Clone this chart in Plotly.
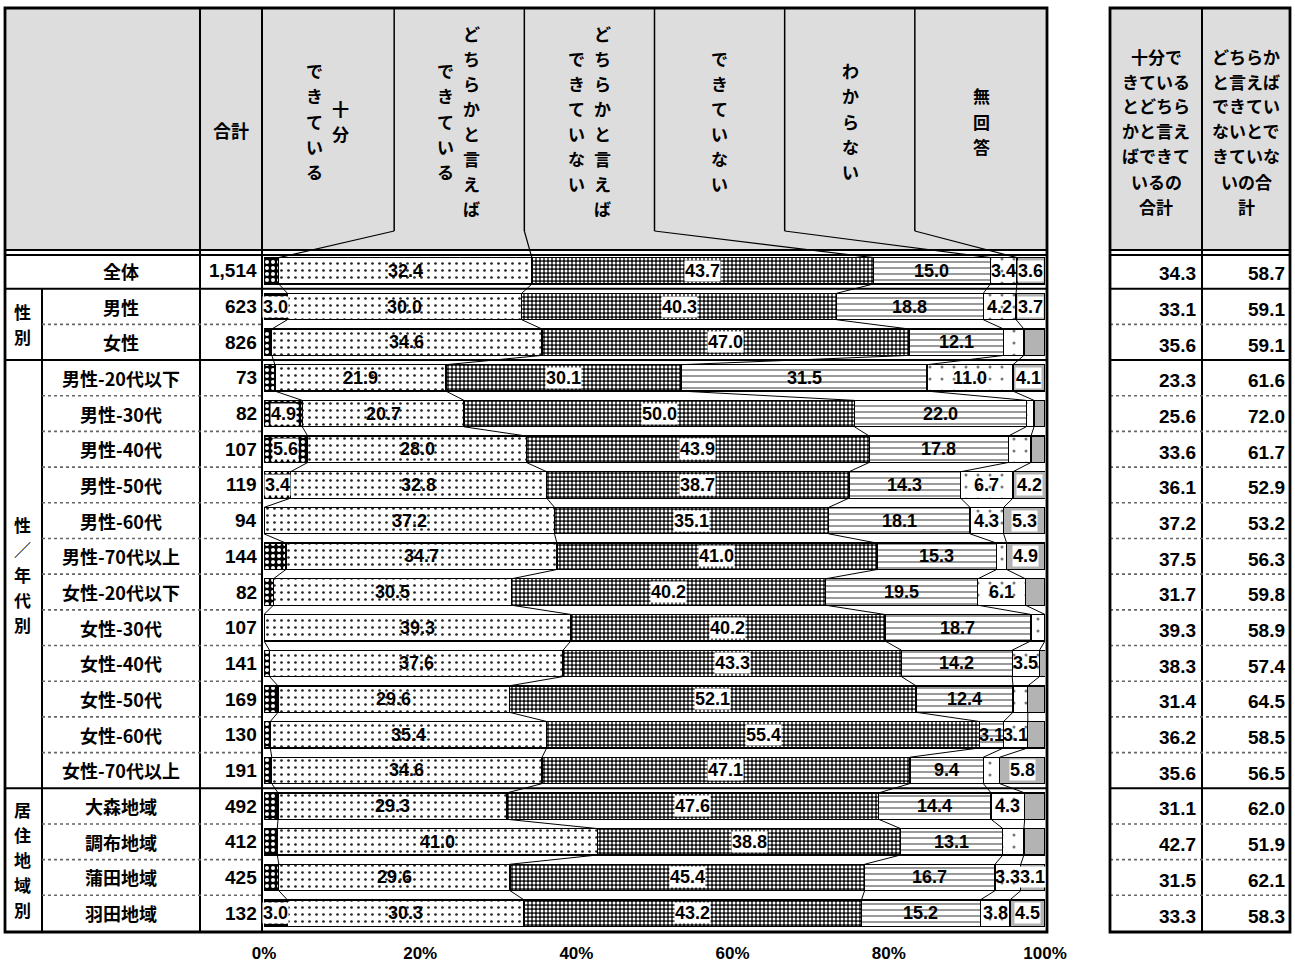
import plotly.graph_objects as go

# ---------------- data ----------------
categories = ["全体", "男性", "女性", "男性-20代以下", "男性-30代", "男性-40代", "男性-50代",
              "男性-60代", "男性-70代以上", "女性-20代以下", "女性-30代", "女性-40代", "女性-50代",
              "女性-60代", "女性-70代以上", "大森地域", "調布地域", "蒲田地域", "羽田地域"]
n_values = ["1,514", "623", "826", "73", "82", "107", "119", "94", "144", "82", "107", "141",
            "169", "130", "191", "492", "412", "425", "132"]
series_names = ["十分できている", "どちらかと言えばできている", "どちらかと言えばできていない",
                "できていない", "わからない", "無回答"]
v_jubun = [1.9, 3.0, 1.0, 1.4, 4.9, 5.6, 3.4, 0.0, 2.8, 1.2, 0.0, 0.7, 1.8, 0.8, 1.0, 1.8, 1.7, 1.9, 3.0]
v_dochira_dekiteiru = [32.4, 30.0, 34.6, 21.9, 20.7, 28.0, 32.8, 37.2, 34.7, 30.5, 39.3, 37.6, 29.6, 35.4, 34.6, 29.3, 41.0, 29.6, 30.3]
v_dochira_dekiteinai = [43.7, 40.3, 47.0, 30.1, 50.0, 43.9, 38.7, 35.1, 41.0, 40.2, 40.2, 43.3, 52.1, 55.4, 47.1, 47.6, 38.8, 45.4, 43.2]
v_dekiteinai = [15.0, 18.8, 12.1, 31.5, 22.0, 17.8, 14.3, 18.1, 15.3, 19.5, 18.7, 14.2, 12.4, 3.1, 9.4, 14.4, 13.1, 16.7, 15.2]
v_wakaranai = [3.4, 4.2, 2.6, 11.0, 1.0, 2.9, 6.7, 4.3, 1.3, 6.1, 1.8, 3.5, 1.9, 3.1, 2.1, 4.3, 2.7, 3.3, 3.8]
v_mukaitou = [3.6, 3.7, 2.7, 4.1, 1.4, 1.8, 4.2, 5.3, 4.9, 2.4, 0.0, 0.8, 2.2, 2.2, 5.8, 2.6, 2.7, 3.1, 4.5]
sum_dekiteiru = [34.3, 33.1, 35.6, 23.3, 25.6, 33.6, 36.1, 37.2, 37.5, 31.7, 39.3, 38.3, 31.4, 36.2, 35.6, 31.1, 42.7, 31.5, 33.3]
sum_dekiteinai = [58.7, 59.1, 59.1, 61.6, 72.0, 61.7, 52.9, 53.2, 56.3, 59.8, 58.9, 57.4, 64.5, 58.5, 56.5, 62.0, 51.9, 62.1, 58.3]
# vertical (tategaki) header: per column, right line first then left line
header_cols = [["十分", "できている"],
               ["どちらかと言えば", "できている"],
               ["どちらかと言えば", "できていない"],
               ["できていない"],
               ["わからない"],
               ["無回答"]]
sum_headers = [["十分で", "きている", "とどちら", "かと言え", "ばできて", "いるの", "合計"],
               ["どちらか", "と言えば", "できてい", "ないとで", "きていな", "いの合", "計"]]
groups = [("", 0, 0), ("性別", 1, 2), ("性／年代別", 3, 14), ("居住地域別", 15, 18)]
tick_vals = [0, 20, 40, 60, 80, 100]
tick_labels = ["0%", "20%", "40%", "60%", "80%", "100%"]

# ---------------- geometry (pixels) ----------------
W, H = 1295, 965
def px(x): return x / W
def py(y): return 1 - y / H

TL, TR, TT, TB = 5, 1047, 8, 932
HB1, HB2 = 250, 255
C1, C2, C3 = 42, 200, 262
BX0, BX1 = 264, 1045
BY0, BY1 = 253, 931
RL, RM, RR = 1110, 1202, 1290
BW = 0.74
PITCH = 25  # vertical text character pitch (px)

JP = "Noto Sans CJK JP"
NUM = "Liberation Sans Narrow, Arial Narrow, Liberation Sans"

nrows = len(categories)
rows = list(range(nrows))
ROWPX = (BY1 - BY0) / nrows
series_vals = [v_jubun, v_dochira_dekiteiru, v_dochira_dekiteinai, v_dekiteinai, v_wakaranai, v_mukaitou]
styles = [
    dict(shape=".", fg="#ffffff", bg="#000000", size=6, sol=0.35, box=True),
    dict(shape=".", fg="#222222", bg="#ffffff", size=7, sol=0.12, box=False),
    dict(shape=".", fg="#ffffff", bg="#111111", size=4, sol=0.45, box=True),
    dict(shape="-", fg="#444444", bg="#ffffff", size=6, sol=0.18, box=False),
    dict(shape=".", fg="#777777", bg="#ffffff", size=12, sol=0.05, box=False),
    dict(shape="", fg="#b3b3b3", bg="#b3b3b3", size=8, sol=0.3, box=True),
]

fig = go.Figure()
for name, vals, st in zip(series_names, series_vals, styles):
    pat = dict(shape=st["shape"], fgcolor=st["fg"], bgcolor=st["bg"], size=st["size"], solidity=st["sol"])
    fig.add_trace(go.Bar(
        y=rows, x=vals, orientation="h", name=name, width=BW,
        marker=dict(color=st["bg"], line=dict(color="black", width=1.3), pattern=pat),
        hoverinfo="skip"))

# cumulative boundaries
cum = []
for i in rows:
    c = [0.0]
    for vals in series_vals:
        c.append(c[-1] + vals[i])
    cum.append(c)

# series lines between bars
lx, ly = [], []
for k in range(1, 6):
    for i in range(nrows - 1):
        lx += [cum[i][k], cum[i + 1][k], None]
        ly += [i + BW / 2, i + 1 - BW / 2, None]
fig.add_trace(go.Scatter(x=lx, y=ly, mode="lines", line=dict(color="black", width=1),
                         hoverinfo="skip", showlegend=False))

ann = []
def A(**kw):
    kw.setdefault("showarrow", False)
    kw.setdefault("xanchor", "center")
    kw.setdefault("yanchor", "middle")
    ann.append(kw)

def stack_paper(items, x, yc, size, pitch=PITCH):
    n = len(items)
    for j, t in enumerate(items):
        yy = yc + (j - (n - 1) / 2) * pitch
        A(x=px(x), y=py(yy), xref="paper", yref="paper", text=t,
          font=dict(family=JP, size=size, color="black", weight="bold"))

def vtext_rows(text, x, rc, size):
    n = len(text)
    for j, ch in enumerate(text):
        yy = rc + (j - (n - 1) / 2) * PITCH / ROWPX
        A(x=px(x), y=yy, xref="paper", yref="y", text=ch,
          font=dict(family=JP, size=size, color="black", weight="bold"))

# bar value labels
for s, (vals, st) in enumerate(zip(series_vals, styles)):
    for i in rows:
        v = vals[i]
        if v >= 3.0:
            A(x=cum[i][s] + v / 2, y=i, xref="x", yref="y", text=f"{v:.1f}",
              font=dict(family=NUM, size=18, color="black", weight="bold"),
              bgcolor="white" if st["box"] else "rgba(0,0,0,0)", borderpad=0)

# row labels, n, sums
for i in rows:
    A(x=px(121), y=i, xref="paper", yref="y", text=categories[i],
      font=dict(family=JP, size=18, color="black", weight="bold"))
    A(x=px(259), y=i, xref="paper", yref="y", text=n_values[i], xanchor="right",
      font=dict(family=NUM, size=19, color="black", weight="bold"))
    A(x=px(RM - 4), y=i + 0.08, xref="paper", yref="y", text=f"{sum_dekiteiru[i]:.1f}", xanchor="right",
      font=dict(family=NUM, size=19, color="black", weight="bold"))
    A(x=px(RR - 3), y=i + 0.08, xref="paper", yref="y", text=f"{sum_dekiteinai[i]:.1f}", xanchor="right",
      font=dict(family=NUM, size=19, color="black", weight="bold"))

for text, a, b in groups:
    if text:
        vtext_rows(text, 23, (a + b) / 2, 17)

# header texts
A(x=px(231), y=py(130), xref="paper", yref="paper", text="合計",
  font=dict(family=JP, size=18, color="black", weight="bold"))
colw = (TR - C3) / 6
for k, cols in enumerate(header_cols):
    cx = C3 + colw * (k + 0.5)
    xs = [cx + 13, cx - 13] if len(cols) == 2 else [cx]
    for t, xx in zip(cols, xs):
        stack_paper(list(t), xx, 121, 17)
for lines, xx in zip(sum_headers, [(RL + RM) / 2, (RM + RR) / 2]):
    stack_paper(lines, xx, 131, 17)

# ---------------- table shapes ----------------
shapes = []
def rect(x0, y0, x1, y1, fill=None, lw=0, layer="below"):
    shapes.append(dict(type="rect", xref="paper", yref="paper", x0=px(x0), x1=px(x1), y0=py(y0), y1=py(y1),
                       fillcolor=fill if fill else "rgba(0,0,0,0)",
                       line=dict(width=lw, color="black"), layer=layer))
def pline(x0, y0, x1, y1, lw=1.5, dash="solid", color="black"):
    shapes.append(dict(type="line", xref="paper", yref="paper", x0=px(x0), x1=px(x1), y0=py(y0), y1=py(y1),
                       line=dict(width=lw, color=color, dash=dash), layer="above"))
def rline(x0, x1, yrow, lw=1.5, dash="solid", color="black"):
    shapes.append(dict(type="line", xref="paper", yref="y", x0=px(x0), x1=px(x1), y0=yrow, y1=yrow,
                       line=dict(width=lw, color=color, dash=dash), layer="above"))

rect(TL, TT, TR, HB1, fill="#dddddd")
rect(RL, TT, RR, HB1, fill="#dddddd")
for y in (HB1, HB2):
    pline(TL, y, TR, y, lw=2)
    pline(RL, y, RR, y, lw=2)
pline(C2, TT, C2, TB, lw=2)
pline(C3, TT, C3, TB, lw=2)
shapes.append(dict(type="line", xref="paper", yref="y", x0=px(C1), x1=px(C1), y0=0.5, y1=nrows - 0.5,
                   line=dict(width=2, color="black"), layer="above"))
pline(RM, TT, RM, TB, lw=2)
group_ends = [b for _, a, b in groups][:-1]
for i in range(nrows - 1):
    if i in group_ends:
        rline(TL, TR, i + 0.5, lw=2)
        rline(RL, RR, i + 0.5, lw=2)
    else:
        rline(C1, C3, i + 0.5, lw=1.6, dash="dot", color="#666666")
        rline(RL, RR, i + 0.5, lw=1.6, dash="dot", color="#666666")
bar_top0 = BY0 + ROWPX * (0.5 - BW / 2)
for k in range(1, 6):
    xd = 100 * k / 6
    shapes.append(dict(type="line", xref="x", yref="paper", x0=xd, x1=xd, y0=py(TT), y1=py(231),
                       line=dict(width=1.5, color="black"), layer="above"))
    shapes.append(dict(type="line", xref="x", yref="paper", x0=xd, x1=cum[0][k], y0=py(231), y1=py(bar_top0),
                       line=dict(width=1.2, color="black"), layer="above"))
rect(TL, TT, TR, TB, lw=2.8, layer="above")
rect(RL, TT, RR, TB, lw=2.8, layer="above")

fig.update_layout(
    template="none",
    width=W, height=H, margin=dict(l=0, r=0, t=0, b=0, pad=0, autoexpand=False),
    paper_bgcolor="white", plot_bgcolor="rgba(0,0,0,0)",
    barmode="stack", showlegend=False,
    annotations=ann, shapes=shapes,
    xaxis=dict(domain=[px(BX0), px(BX1)], range=[0, 100], tickvals=tick_vals, ticktext=tick_labels,
               automargin=False, showgrid=False, zeroline=False, showline=False, ticks="",
               ticklabelstandoff=10,
               tickfont=dict(family=NUM, size=17, color="black", weight="bold"), fixedrange=True),
    yaxis=dict(domain=[py(BY1), py(BY0)], range=[nrows - 0.5, -0.5], showticklabels=False,
               automargin=False, showgrid=False, zeroline=False, showline=False, ticks="", fixedrange=True),
)

fig.write_html("out.html", config={"displayModeBar": False},
               post_script="document.body.style.margin='0';document.body.style.overflow='hidden';")
